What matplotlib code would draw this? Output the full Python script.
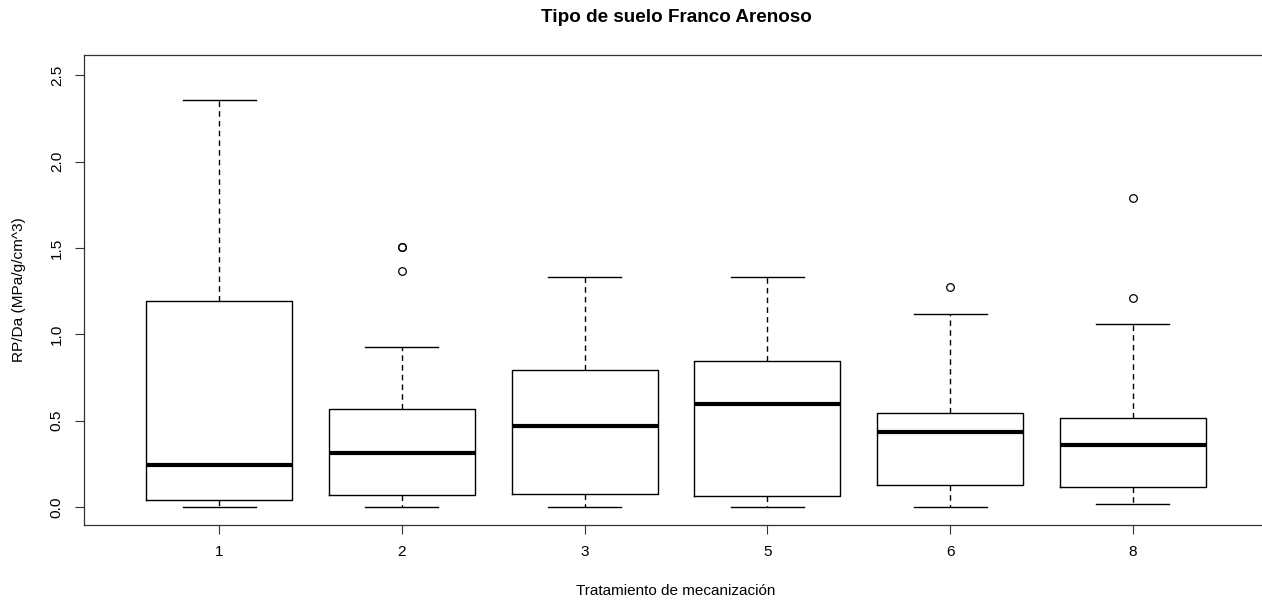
import matplotlib
matplotlib.use("Agg")
import matplotlib.pyplot as plt

plt.rcParams['font.family'] = ['Liberation Sans', 'DejaVu Sans']

categories = ["1", "2", "3", "5", "6", "8"]
whislo = [0.0, 0.0, 0.0, 0.0, 0.0, 0.017]
q1 = [0.041, 0.068, 0.077, 0.064, 0.125, 0.114]
med = [0.243, 0.314, 0.467, 0.594, 0.432, 0.359]
q3 = [1.195, 0.566, 0.791, 0.843, 0.546, 0.513]
whishi = [2.355, 0.928, 1.332, 1.332, 1.117, 1.060]
fliers = [[], [1.507, 1.503, 1.368], [], [], [1.272], [1.791, 1.208]]

stats = []
for i, c in enumerate(categories):
    stats.append(dict(label=c, whislo=whislo[i], q1=q1[i], med=med[i],
                      q3=q3[i], whishi=whishi[i], fliers=fliers[i]))

W, H = 1262, 601
fig = plt.figure(figsize=(W / 100, H / 100), dpi=100)
left, right, top, bottom = 84, 1268, 55, 524.7
ax = fig.add_axes([left / W, 1 - bottom / H, (right - left) / W, (bottom - top) / H])

ax.bxp(stats, positions=range(1, len(categories) + 1), widths=0.8,
       showfliers=True,
       boxprops=dict(color='black', linewidth=1.0),
       medianprops=dict(color='black', linewidth=3.0, solid_capstyle='butt'),
       whiskerprops=dict(color='black', linewidth=1.0, linestyle=(0, (4, 3))),
       capprops=dict(color='black', linewidth=1.0),
       capwidths=0.4,
       flierprops=dict(marker='o', markerfacecolor='none', markeredgecolor='black',
                       markersize=5.5, markeredgewidth=0.9, linestyle='none'))

ax.set_xlim(0.26, 6.74)
ax.set_ylim(-0.102, 2.617)
ax.set_yticks([0.0, 0.5, 1.0, 1.5, 2.0, 2.5])
ax.set_yticklabels(["0.0", "0.5", "1.0", "1.5", "2.0", "2.5"], rotation=90, va='center')
ax.set_xticks(range(1, len(categories) + 1))
ax.set_xticklabels(categories)
ax.tick_params(axis='both', labelsize=11.1, length=6.5, width=0.8, color='#333333', pad=8)
ax.spines['right'].set_visible(False)
for s in ax.spines.values():
    s.set_linewidth(0.9)
    s.set_color('#333333')

cx = (left + right) / 2 / W
fig.text(cx, 1 - 18 / H, "Tipo de suelo Franco Arenoso", fontsize=13.6,
         fontweight='bold', ha='center', va='center')
fig.text(cx, 1 - 591 / H, "Tratamiento de mecanización", fontsize=11.0,
         ha='center', va='center')
fig.text(19 / W, 1 - ((top + bottom) / 2) / H, "RP/Da (MPa/g/cm^3)", fontsize=11.1,
         ha='center', va='center', rotation=90)

fig.savefig("out.png", dpi=100, facecolor='white')
